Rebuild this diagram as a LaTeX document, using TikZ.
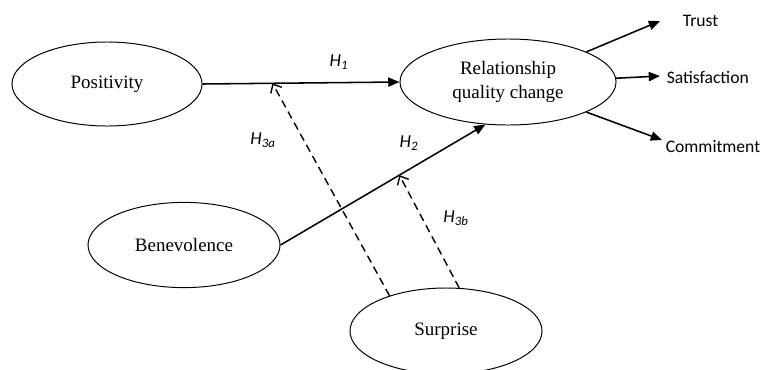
\documentclass[tikz,border=0pt]{standalone}
\usepackage{fontspec}
\setmainfont{Liberation Serif}
\newfontfamily\labelfont{Carlito}
\usepackage{tikz}
\usetikzlibrary{calc,arrows.meta}
\usetikzlibrary{shapes.geometric}
\tikzset{construct/.style={ellipse,draw,line width=0.7pt,inner sep=0pt,font=\fontsize{13.5}{17}\selectfont,align=center},
	hyp/.style={font=\labelfont\itshape\fontsize{13}{14}\selectfont},
	outcome/.style={anchor=west,inner sep=0pt,font=\labelfont\fontsize{12.5}{13}\selectfont},
	moderate/.style={dashed,dash pattern=on 5.5pt off 3.5pt,line width=1pt,-{Straight Barb[length=5pt,width=9pt]}}}

\begin{document}
\begin{tikzpicture}[x=0.025cm,y=-0.025cm]
\clip (0,0) rectangle (766,369);

\begin{scope}[>={Triangle[length=8pt,width=6.5pt]}, line width=1.1pt]
\node[construct,minimum width=4.75cm,minimum height=2.1cm] (pos) at (107,84) {Positivity};
\node[construct,minimum width=5.4cm,minimum height=2.15cm] (rel) at (508,82) {Relationship\\quality change};
\node[construct,minimum width=4.8cm,minimum height=2.13cm] (ben) at (184,245) {Benevolence};
\node[construct,minimum width=4.8cm,minimum height=2.15cm] (sur) at (446,331) {Surprise};

\draw [->] (pos.east)--(rel.west) coordinate[pos=0.355] (hone);
\draw [->] (ben.east)--(rel.-118) coordinate[pos=0.58] (htwo);
\node[hyp] (lone) at (339,62) {H\textsubscript{1}};
\node[hyp] (ltwo) at (409,143) {H\textsubscript{2}};

% moderation
\draw [moderate] (sur.148)--(hone);
\draw [moderate] (sur.73)--(htwo);
\node[hyp] (lthreea) at (263,140) {H\textsubscript{3a}};
\node[hyp] (lthreeb) at (456,218) {H\textsubscript{3b}};

% outcomes
\coordinate (ttrust) at (660,21);
\coordinate (tsat) at (660,76);
\coordinate (tcom) at (662,140);
\node[outcome] (trust) at (682,21) {Trust};
\node[outcome] (sat) at (666,77) {Satisfaction};
\node[outcome] (com) at (665,147) {Commitment};
\draw [->] (rel.21)--(ttrust);
\draw [->] (rel.2)--(tsat);
\draw [->] (rel.-21)--(tcom);
\end{scope}

\end{tikzpicture}
\end{document}
